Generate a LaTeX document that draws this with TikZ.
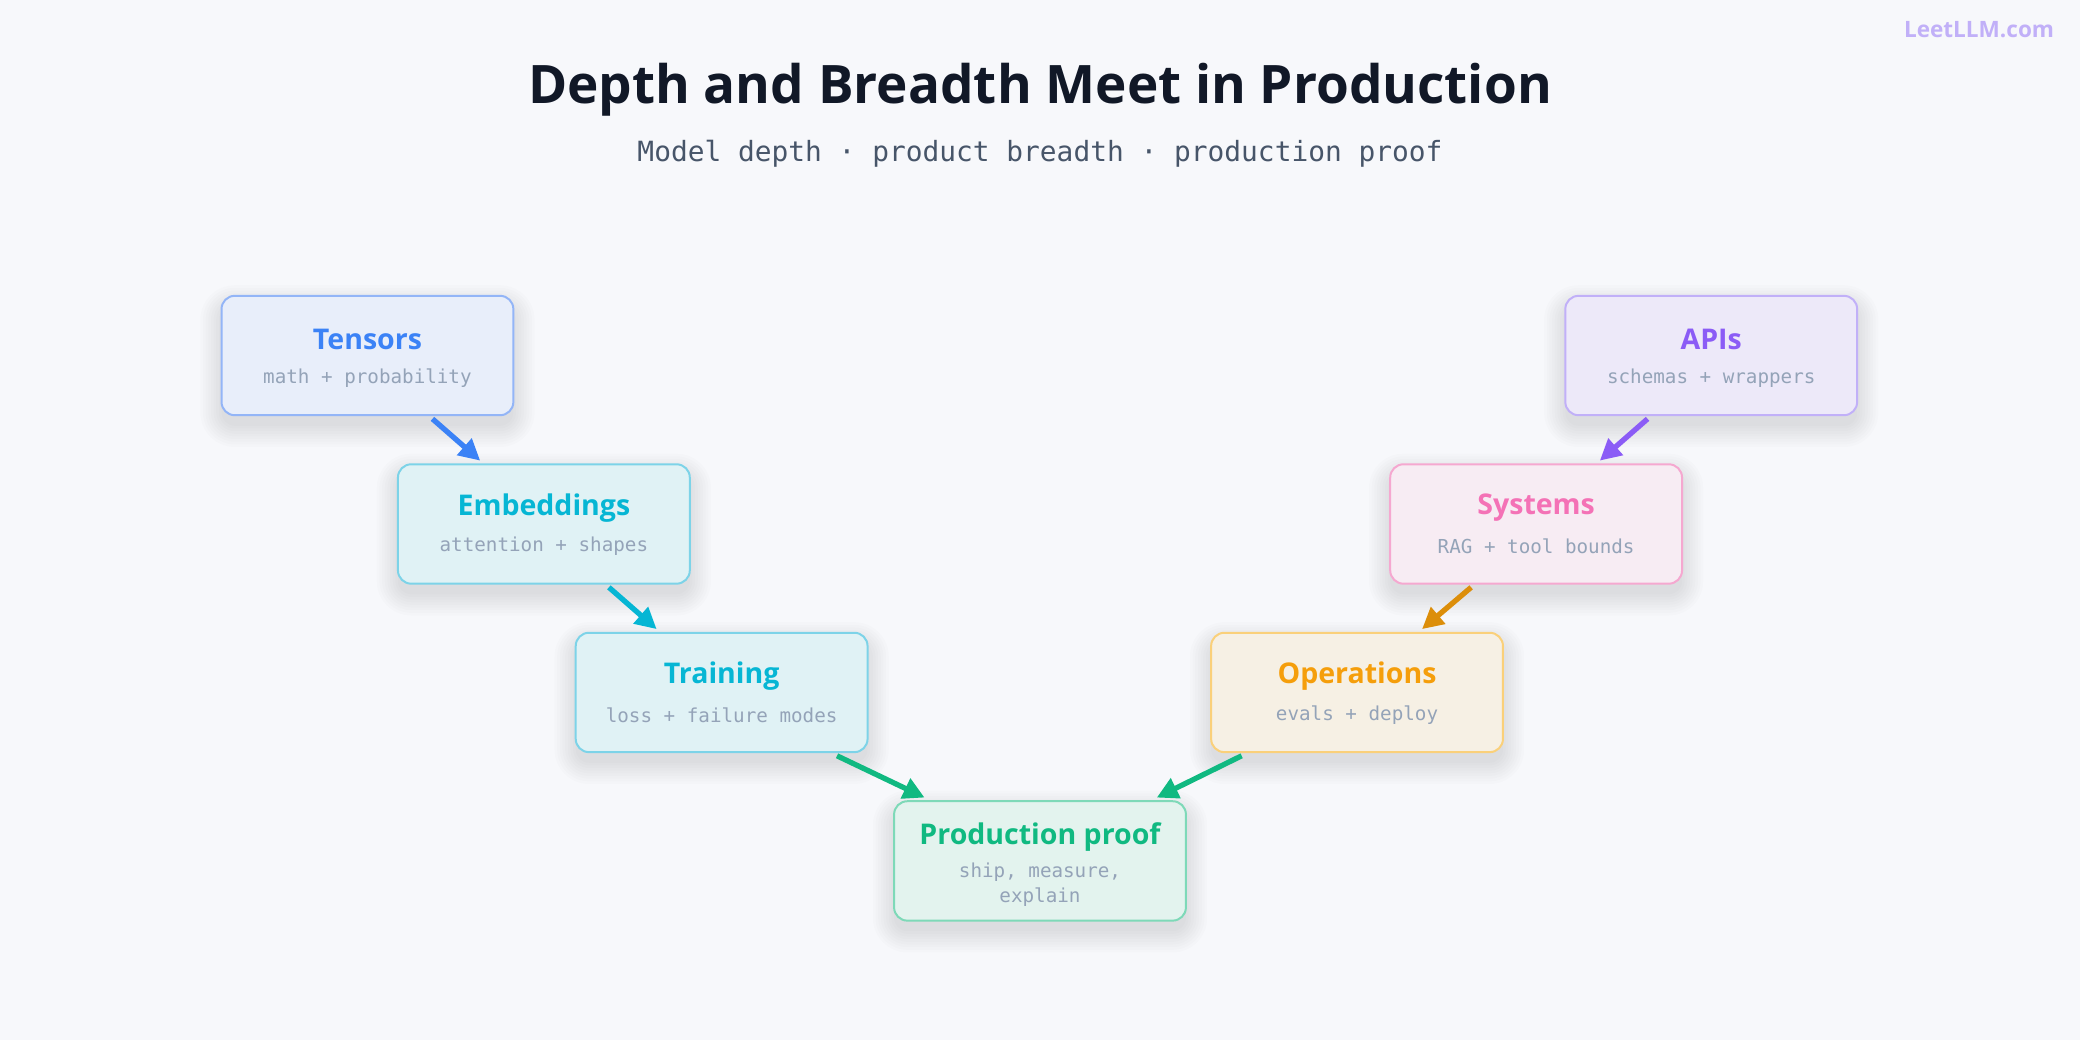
\documentclass[tikz,border=0pt]{standalone}
\usepackage{fontspec}
\setmainfont{Open Sans}
\newfontfamily\monof{DejaVu Sans Mono}
\usetikzlibrary{arrows.meta,calc}
\definecolor{bg}{HTML}{F7F8FB}
\definecolor{ttl}{HTML}{111827}
\definecolor{sub}{HTML}{475569}
\definecolor{gr}{HTML}{94A3B8}
\definecolor{cB}{HTML}{3B82F6}\definecolor{fB}{HTML}{E8EEFA}\definecolor{bB}{HTML}{93B5F7}
\definecolor{cC}{HTML}{06B6D4}\definecolor{fC}{HTML}{E0F2F5}\definecolor{bC}{HTML}{7DD3E8}
\definecolor{cG}{HTML}{10B981}\definecolor{fG}{HTML}{E3F3EE}\definecolor{bG}{HTML}{7ED9B8}
\definecolor{cA}{HTML}{F59E0B}\definecolor{fA}{HTML}{F6F0E4}\definecolor{bA}{HTML}{FAD07A}
\definecolor{cP}{HTML}{F472B6}\definecolor{fP}{HTML}{F7ECF3}\definecolor{bP}{HTML}{F5A8D0}
\definecolor{cV}{HTML}{8B5CF6}\definecolor{fV}{HTML}{EDE9F9}\definecolor{bV}{HTML}{C1B0F8}
\tikzset{
 box/.style={draw=#1, line width=1.5pt, rounded corners=10pt, minimum width=220pt, minimum height=90pt},
 arr/.style={line width=4pt, -{Triangle[length=16pt,width=16pt]}, draw=#1},
 hd/.style={font=\fontsize{21.5}{26}\selectfont\bfseries, text=#1},
 sb/.style={font=\monof\fontsize{14.5}{19}\selectfont, text=gr, align=center},
 shd/.style={fill=black, fill opacity=0.012, draw=none},
}
\newcommand\softshadow[2]{%
 \foreach \i in {0,2,...,16}{%
  \fill[shd, rounded corners={10+\i}] ($(#1-110-\i,#2-45-\i+8)$) rectangle ($(#1+110+\i,#2+45+\i+8)$);}}
\begin{document}
\begin{tikzpicture}[x=1pt,y=-1pt]
\fill[bg] (0,0) rectangle (1568,784);
\useasboundingbox (0,0) rectangle (1568,784);
\node[font=\fontsize{40}{48}\selectfont\bfseries, text=ttl] (title) at (784,68) {Depth and Breadth Meet in Production};
\node[font=\monof\fontsize{21}{24}\selectfont, text=sub] (subt) at (784,116) {Model depth · product breadth · production proof};
\node[font=\fontsize{17}{20}\selectfont\bfseries, text=bV, anchor=east] (logo) at (1552,22) {LeetLLM.com};
\def\mk#1#2#3#4#5#6{%
 \softshadow{#3}{#4}
 \node[box=b#2, fill=f#2] (#1) at (#3,#4) {};
 \node[hd=c#2] at ($(#1)+(0,-12)$) {#5};
 \node[sb] at ($(#1)+(0,17)$) {#6};}
\mk{t}{B}{277}{268}{Tensors}{math + probability}
\mk{e}{C}{410}{395}{Embeddings}{attention + shapes}
\mk{tr}{C}{544}{522}{Training}{loss + failure modes}
\softshadow{784}{649}
\node[box=bG, fill=fG] (p) at (784,649) {};
\node[hd=cG] at ($(p)+(0,-18)$) {Production proof};
\node[sb] at ($(p)+(0,18)$) {ship, measure,\\explain};
\mk{o}{A}{1023}{522}{Operations}{evals + deploy}
\mk{s}{P}{1158}{395}{Systems}{RAG + tool bounds}
\mk{a}{V}{1290}{268}{APIs}{schemas + wrappers}
\draw[arr=cB] ($(t.south)+(49,2)$) -- ($(e.north)+(-48,-2)$);
\draw[arr=cC] ($(e.south)+(49,2)$) -- ($(tr.north)+(-49,-2)$);
\draw[arr=cG] ($(tr.south)+(87,2)$) -- ($(p.north)+(-87,-2)$);
\draw[arr=cG] ($(o.south)+(-87,2)$) -- ($(p.north)+(88,-2)$);
\draw[arr=cA!90!black] ($(s.south)+(-49,2)$) -- ($(o.north)+(49,-2)$);
\draw[arr=cV] ($(a.south)+(-48,2)$) -- ($(s.north)+(48,-2)$);
\end{tikzpicture}
\end{document}
